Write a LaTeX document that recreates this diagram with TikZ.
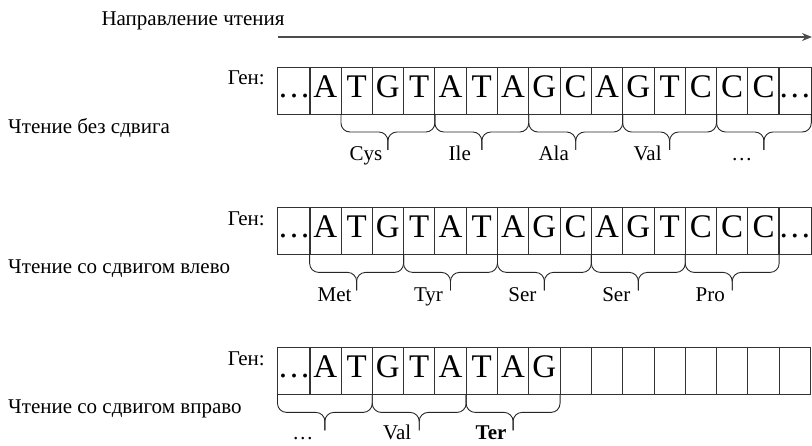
\documentclass[tikz,border=0pt]{standalone}
\usepackage{fontspec}
\setmainfont{Liberation Serif}
\usetikzlibrary{arrows.meta,positioning,calc}

\begin{document}
\begin{tikzpicture}[
    x=1pt, y=-1pt,
    cell/.style={rectangle, draw=black!80, line width=0.8pt, minimum width=31.3pt, minimum height=46.7pt, inner sep=0pt, outer sep=0pt, text height=22pt, text depth=9.2pt, font=\fontsize{33}{36}\selectfont},
    txt/.style={font=\fontsize{21}{25}\selectfont, inner sep=0pt},
    amino/.style={font=\fontsize{21}{25}\selectfont, inner sep=0pt, anchor=base},
    codon/.style={draw=black!85, line width=0.9pt, rounded corners=9pt},
    arrow/.style={-{Stealth[length=10pt, width=8pt]}, line width=1.2pt, draw=black!70}
]
    \useasboundingbox (0,0) rectangle (812,446);

    % reading direction
    \node [txt, anchor=base] (dir) at (193,26) {Направление чтения};
    \coordinate (dirL) at (278.3,37);
    \coordinate (dirR) at (812,37);
    \draw [arrow] (dirL) -- (dirR);

    % no shift
    \node [txt, anchor=base east] (genA) at (265,84.8) {Ген:};
    \node [txt, anchor=base west] (rowA) at (8,133.3) {Чтение без сдвига};
    \foreach \b [count=\i from 0] in {…,A,T,G,T,A,T,A,G,C,A,G,T,C,C,C,…}
        \node [cell] (a\i) at (294+31.3*\i,90.65) {\b};
    \foreach \s/\aa [count=\k] in {2/Cys, 5/Ile, 8/Ala, 11/Val, 14/…} {
        \pgfmathtruncatemacro\e{\s+2}
        \coordinate (mA\k) at ($(a\s.south west)!.5!(a\e.south east)$);
        \draw [codon] (a\s.south west) -- ++(0,18) -| ($(mA\k)+(0,36)$);
        \draw [codon] (a\e.south east) -- ++(0,18) -| ($(mA\k)+(0,36)$);
        \node [amino] (aaA\k) at ($(mA\k)+(-22,47)$) {\aa};
    }

    % shift left
    \node [txt, anchor=base east] (genB) at (265,225.2) {Ген:};
    \node [txt, anchor=base west] (rowB) at (8,273.7) {Чтение со сдвигом влево};
    \foreach \b [count=\i from 0] in {…,A,T,G,T,A,T,A,G,C,A,G,T,C,C,C,…}
        \node [cell] (b\i) at (294+31.3*\i,231.05) {\b};
    \foreach \s/\aa [count=\k] in {1/Met, 4/Tyr, 7/Ser, 10/Ser, 13/Pro} {
        \pgfmathtruncatemacro\e{\s+2}
        \coordinate (mB\k) at ($(b\s.south west)!.5!(b\e.south east)$);
        \draw [codon] (b\s.south west) -- ++(0,18) -| ($(mB\k)+(0,36)$);
        \draw [codon] (b\e.south east) -- ++(0,18) -| ($(mB\k)+(0,36)$);
        \node [amino] (aaB\k) at ($(mB\k)+(-22,47)$) {\aa};
    }

    % shift right
    \node [txt, anchor=base east] (genC) at (265,365.2) {Ген:};
    \node [txt, anchor=base west] (rowC) at (8,413.7) {Чтение со сдвигом вправо};
    \foreach \b [count=\i from 0] in {…,A,T,G,T,A,T,A,G,{},{},{},{},{},{},{},{}}
        \node [cell] (c\i) at (294+31.3*\i,371.05) {\b};
    \foreach \s/\aa [count=\k] in {0/…, 3/Val, 6/\textbf{Ter}} {
        \pgfmathtruncatemacro\e{\s+2}
        \coordinate (mC\k) at ($(c\s.south west)!.5!(c\e.south east)$);
        \draw [codon] (c\s.south west) -- ++(0,18) -| ($(mC\k)+(0,36)$);
        \draw [codon] (c\e.south east) -- ++(0,18) -| ($(mC\k)+(0,36)$);
        \node [amino] (aaC\k) at ($(mC\k)+(-22,45)$) {\aa};
    }
\end{tikzpicture}
\end{document}
